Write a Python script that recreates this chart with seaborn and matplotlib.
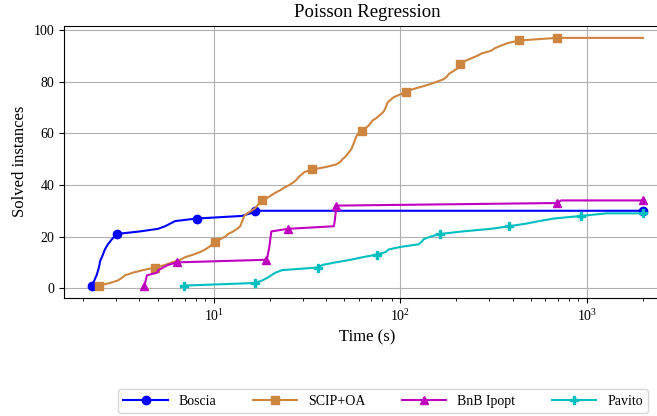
import numpy as np
import pandas as pd
import matplotlib
matplotlib.use("Agg")
import matplotlib.pyplot as plt
import seaborn as sns

# Solve times (seconds) of every instance each solver finished within the limit
TIME_LIMIT = 2000.0

solvers = ["Boscia", "SCIP+OA", "BnB Ipopt", "Pavito"]
colors = ["#0000ff", "#cd853f", "#bf00bf", "#00bfbf"]
markers = ["o", "s", "^", "P"]
marker_spacing = [0.1, 0.095, 0.1, 0.1]

boscia_times = [
    2.216, 2.252, 2.294, 2.323, 2.358, 2.381, 2.404, 2.425, 2.443, 2.455,
    2.477, 2.517, 2.548, 2.580, 2.612, 2.661, 2.711, 2.780, 2.849, 2.938,
    3.019, 4.027, 5.033, 5.49, 5.84, 6.21, 8.125, 14.18, 15.71, 16.71,
]

scip_oa_times = [
    2.43, 2.78, 3.07, 3.22, 3.35, 3.69, 4.18, 4.85, 5.49, 5.98,
    6.61, 7.03, 7.76, 8.46, 9.00, 9.46, 9.81, 10.19, 10.84, 11.53,
    11.96, 12.73, 13.38, 13.88, 14.05, 14.23, 14.41, 14.58, 15.14, 15.91,
    16.71, 17.13, 17.56, 18.22, 19.39, 20.37, 21.41, 22.77, 23.92, 25.45,
    26.74, 27.76, 28.45, 29.53, 30.64, 33.83, 40.23, 45.52, 47.83, 49.03,
    50.87, 52.15, 53.46, 54.80, 55.48, 56.17, 56.89, 57.58, 58.30, 59.76,
    62.02, 65.17, 67.63, 69.34, 71.07, 74.68, 77.50, 80.43, 82.45, 83.47,
    84.52, 85.57, 88.81, 92.14, 99.26, 106.9, 115.2, 128.7, 143.9, 156.9,
    171.1, 177.6, 182.0, 191.2, 201.0, 206.0, 208.6, 221.9, 238.9, 257.4,
    273.8, 306.1, 321.6, 346.4, 377.7, 432.7, 692.5,
]

bnb_ipopt_times = [
    4.248, 4.284, 4.322, 4.354, 4.392, 4.971, 5.052, 5.354, 5.695, 6.343,
    19.08, 19.39, 19.51, 19.63, 19.75, 19.87, 19.95, 20.04, 20.12, 20.19,
    20.29, 20.37, 25.04, 44.03, 44.30, 44.52, 44.69, 44.85, 45.02, 45.19,
    45.35, 45.52, 692.5, 727.7,
]

pavito_times = [
    6.968, 16.56, 18.22, 19.39, 20.37, 21.41, 23.26, 36.13, 38.28, 44.97,
    54.14, 62.81, 74.68, 83.47, 86.63, 100.5, 125.6, 130.3, 133.6, 145.7,
    162.8, 216.4, 306.1, 382.4, 471.9, 554.2, 667.3, 932.0, 1270.0,
]

all_times = [boscia_times, scip_oa_times, bnb_ipopt_times, pavito_times]

# Cumulative number of solved instances, held flat until the time limit
frames = []
for name, times in zip(solvers, all_times):
    t = np.sort(np.asarray(times, dtype=float))
    n = len(t)
    frames.append(pd.DataFrame({
        "solver": name,
        "time": np.append(t, TIME_LIMIT),
        "solved": np.append(np.arange(1, n + 1), n),
    }))
df = pd.concat(frames, ignore_index=True)

plt.rcParams["font.family"] = ["Liberation Serif", "DejaVu Serif"]
plt.rcParams["mathtext.fontset"] = "custom"
plt.rcParams["mathtext.rm"] = "Liberation Serif"
plt.rcParams["mathtext.it"] = "Liberation Serif:italic"

fig = plt.figure(figsize=(6.57, 4.16), dpi=100)
ax = fig.add_axes([0.0974, 0.2837, 0.9233, 0.655])

for name, color, marker, every in zip(solvers, colors, markers, marker_spacing):
    sub = df[df["solver"] == name]
    sns.lineplot(
        data=sub, x="time", y="solved", ax=ax,
        color=color, marker=marker, markersize=6,
        markeredgecolor=color, markeredgewidth=1.0,
        markevery=every, linewidth=1.5,
        estimator=None, sort=False, label=name,
    )

ax.set_xscale("log")
ax.grid(True, which="major", color="#b0b0b0", linewidth=0.8)
ax.set_axisbelow(True)
ax.set_yticks([0, 20, 40, 60, 80, 100])
ax.tick_params(labelsize=10)
ax.set_title("Poisson Regression", fontsize=13.5)
ax.set_xlabel("Time (s)", fontsize=12)
ax.set_ylabel("Solved instances", fontsize=12)

handles, labels = ax.get_legend_handles_labels()
ax.get_legend().remove()
fig.legend(handles, labels, loc="center", bbox_to_anchor=(0.583, 0.036),
           ncol=4, fontsize=10, handlelength=3.2, columnspacing=2.6)

fig.savefig("out.png", dpi=100)
